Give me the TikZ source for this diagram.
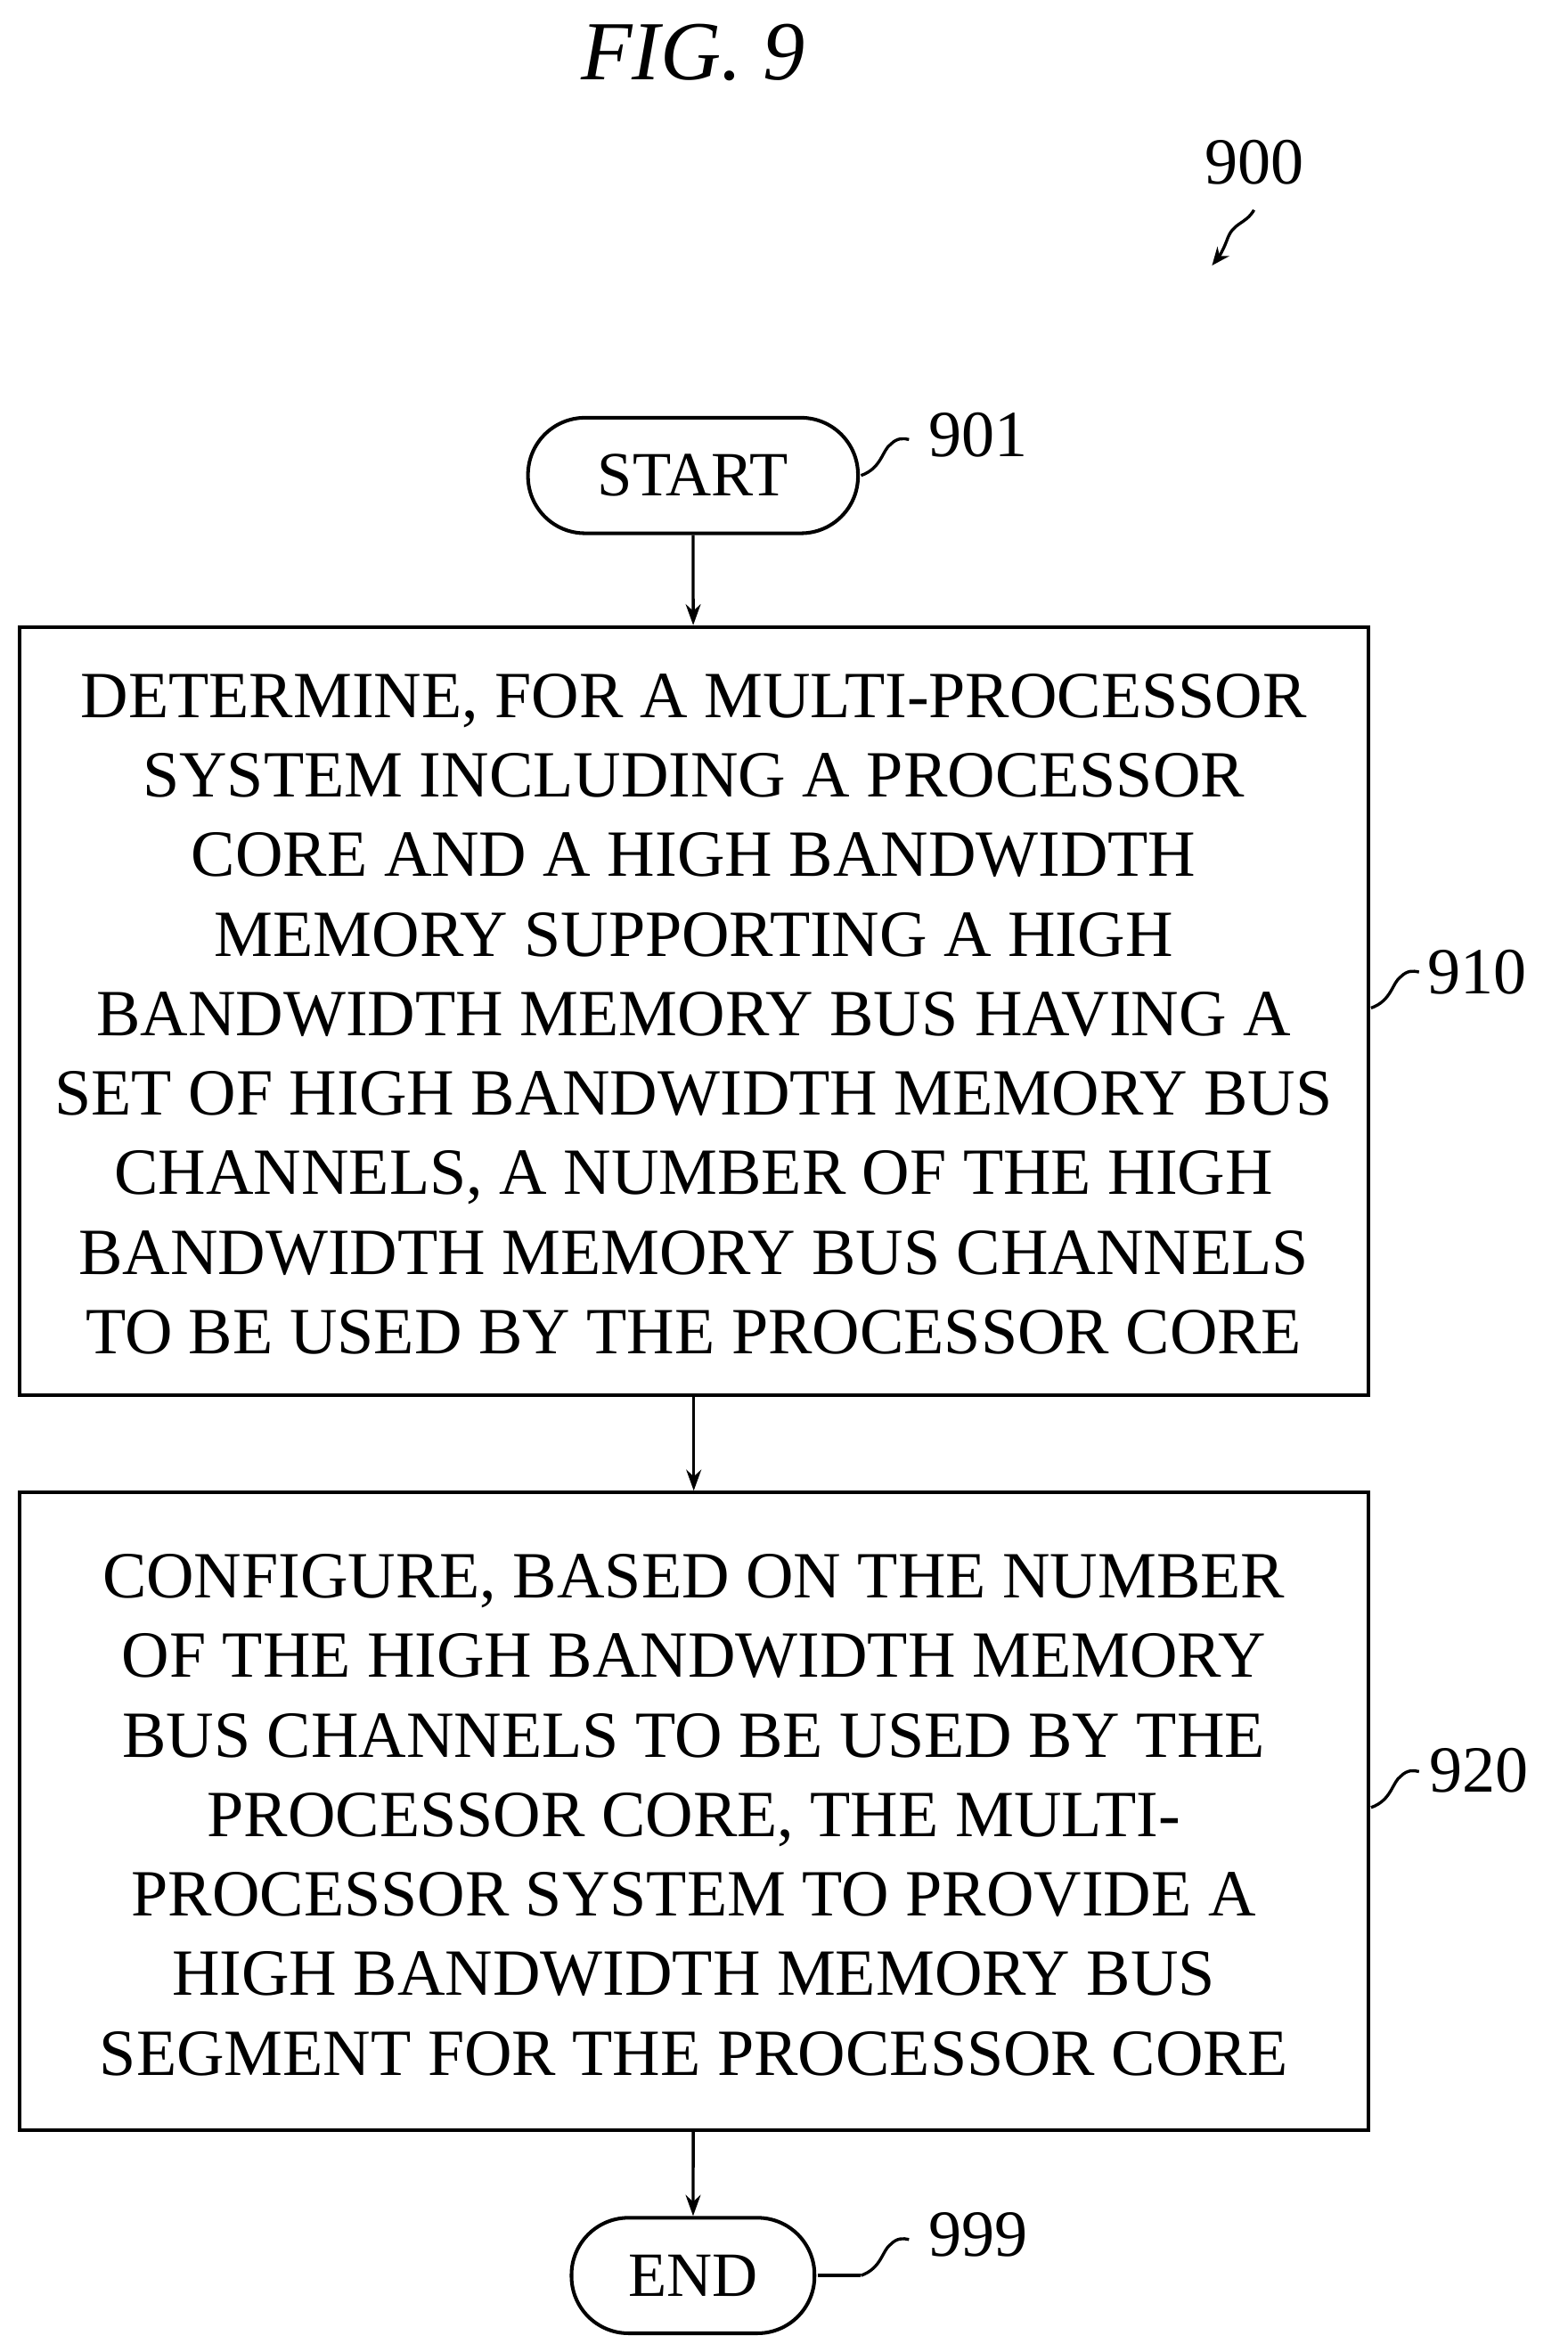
\documentclass[tikz,border=0pt]{standalone}
\usepackage{fontspec}
\setmainfont{Liberation Serif}
\usetikzlibrary{arrows.meta}
\begin{document}
\begin{tikzpicture}[x=0.5pt,y=-0.5pt,
  box/.style={draw,line width=1.2pt,inner sep=0pt},
  term/.style={draw,line width=1.2pt,rounded corners=19pt,inner sep=0pt,font=\fontsize{21}{24}\selectfont},
  txt/.style={align=center,font=\fontsize{22}{26.5}\selectfont},
  lab/.style={font=\fontsize{22}{24}\selectfont},
  arr/.style={-{Stealth[length=7pt,width=5pt]},line width=1pt},
  sq/.style={line width=1pt}]
\useasboundingbox (0,0) rectangle (1045,1568);
\node[font=\fontsize{28}{30}\selectfont\itshape] (fig) at (462,35) {FIG. 9};
\node[lab] (l900) at (836,108) {900};
\coordinate (a0) at (836,140); \coordinate (a1) at (808,177);
\draw[sq,-{Stealth[length=6pt,width=5pt]}] (a0) .. controls (830,150) and (822,148) .. (818,160) .. controls (815,168) and (812,172) .. (a1);
\node[term,minimum width=110pt,minimum height=38.5pt] (start) at (462,317) {START};
\node[term,minimum width=81pt,minimum height=38.5pt] (end) at (462,1517) {END};
\node[box,minimum width=449.5pt,minimum height=256pt] (b910) at (462.5,674) {};
\node[txt] (t910) at (462.5,676) {DETERMINE, FOR A MULTI-PROCESSOR\\SYSTEM INCLUDING A PROCESSOR\\CORE AND A HIGH BANDWIDTH\\MEMORY SUPPORTING A HIGH\\BANDWIDTH MEMORY BUS HAVING A\\SET OF HIGH BANDWIDTH MEMORY BUS\\CHANNELS, A NUMBER OF THE HIGH\\BANDWIDTH MEMORY BUS CHANNELS\\TO BE USED BY THE PROCESSOR CORE};
\node[box,minimum width=449.5pt,minimum height=212.5pt] (b920) at (462.5,1207.5) {};
\node[txt] (t920) at (462.5,1210) {CONFIGURE, BASED ON THE NUMBER\\OF THE HIGH BANDWIDTH MEMORY\\BUS CHANNELS TO BE USED BY THE\\PROCESSOR CORE, THE MULTI-\\PROCESSOR SYSTEM TO PROVIDE A\\HIGH BANDWIDTH MEMORY BUS\\SEGMENT FOR THE PROCESSOR CORE};
\draw[arr] (start) -- (b910);
\draw[arr] (b910) -- (b920);
\draw[arr] (b920) -- (end);
\node[lab] (l901) at (652,290) {901};
\node[lab] (l910) at (985,648) {910};
\node[lab] (l920) at (986,1180) {920};
\node[lab] (l999) at (652,1490) {999};
\draw[sq] (574,317) .. controls (588,312) and (588,300) .. (594,296) .. controls (598,292) and (602,292) .. (606,293);
\draw[sq] (914,672) .. controls (928,667) and (928,655) .. (934,651) .. controls (938,647) and (942,647) .. (946,648);
\draw[sq] (914,1205) .. controls (928,1200) and (928,1188) .. (934,1184) .. controls (938,1180) and (942,1180) .. (946,1181);
\draw[sq] (574,1517) .. controls (588,1512) and (588,1500) .. (594,1496) .. controls (598,1492) and (602,1492) .. (606,1493);
\draw[sq] (545,1517) -- (574,1517);
\end{tikzpicture}
\end{document}
